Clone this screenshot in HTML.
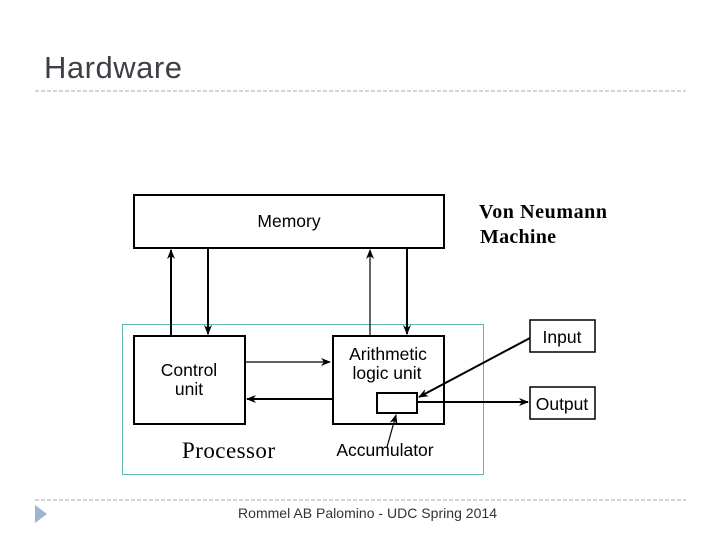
<!DOCTYPE html>
<html><head><style>
html,body{margin:0;padding:0;background:#fff;}
svg{display:block;}
</style></head><body>
<svg width="720" height="540" viewBox="0 0 720 540" xmlns="http://www.w3.org/2000/svg">
<defs>
<marker id="a" markerWidth="10" markerHeight="8" refX="9" refY="4" orient="auto" markerUnits="userSpaceOnUse">
<path d="M0,0 L10,4 L0,8 L3,4 z" fill="#000"/>
</marker>
</defs>
<text x="44" y="78" font-family="Liberation Sans, sans-serif" font-size="31" fill="#3f3f46" textLength="138">Hardware</text>
<line x1="35" y1="91" x2="686" y2="91" stroke="#aaa" stroke-width="1" stroke-dasharray="4,2"/>
<line x1="35" y1="500" x2="686" y2="500" stroke="#aaa" stroke-width="1" stroke-dasharray="4,2"/>
<path d="M35,505 L47,514 L35,523 z" fill="#9fb4d0"/>
<text x="238" y="518" font-family="Liberation Sans, sans-serif" font-size="14" fill="#333" textLength="259">Rommel AB Palomino - UDC Spring 2014</text>

<g fill="none" stroke="#000" stroke-width="2">
<rect x="134" y="195" width="310" height="53"/>
<rect x="134" y="336" width="111" height="88"/>
<rect x="333" y="336" width="111" height="88"/>
<rect x="377" y="393" width="40" height="20"/>
<rect x="530" y="320" width="65" height="32" stroke-width="1.5"/>
<rect x="530" y="387" width="65" height="32" stroke-width="1.5"/>
</g>
<rect x="122.5" y="324.5" width="361" height="150" fill="none" stroke="#5fb8b0" stroke-width="1"/>

<g stroke="#000" stroke-width="2" fill="none">
<line x1="171" y1="336" x2="171" y2="250" marker-end="url(#a)"/>
<line x1="208" y1="248" x2="208" y2="334" marker-end="url(#a)"/>
<line x1="370" y1="336" x2="370" y2="250" marker-end="url(#a)" stroke-width="1.2"/>
<line x1="407" y1="248" x2="407" y2="334" marker-end="url(#a)"/>
<line x1="245" y1="362" x2="330" y2="362" marker-end="url(#a)" stroke-width="1.2"/>
<line x1="333" y1="399" x2="247" y2="399" marker-end="url(#a)"/>
<line x1="417" y1="402" x2="528" y2="402" marker-end="url(#a)"/>
<line x1="530" y1="338" x2="419" y2="397" marker-end="url(#a)"/>
<line x1="387" y1="447" x2="396" y2="415" marker-end="url(#a)" stroke-width="1.2"/>
</g>

<g font-family="Liberation Sans, sans-serif" font-size="17.5" fill="#000" text-anchor="middle">
<text x="289" y="227">Memory</text>
<text x="189" y="376">Control</text>
<text x="189" y="395">unit</text>
<text x="388" y="360">Arithmetic</text>
<text x="387" y="379">logic unit</text>
<text x="385" y="456">Accumulator</text>
<text x="562" y="343">Input</text>
<text x="562" y="410">Output</text>
</g>
<text x="182" y="458" font-family="Liberation Serif, serif" font-size="23" fill="#000" textLength="93">Processor</text>
<g font-family="Liberation Serif, serif" font-size="20" font-weight="bold" fill="#000">
<text x="479" y="218" textLength="128">Von Neumann</text>
<text x="480" y="243" textLength="76">Machine</text>
</g>
</svg>
</body></html>
